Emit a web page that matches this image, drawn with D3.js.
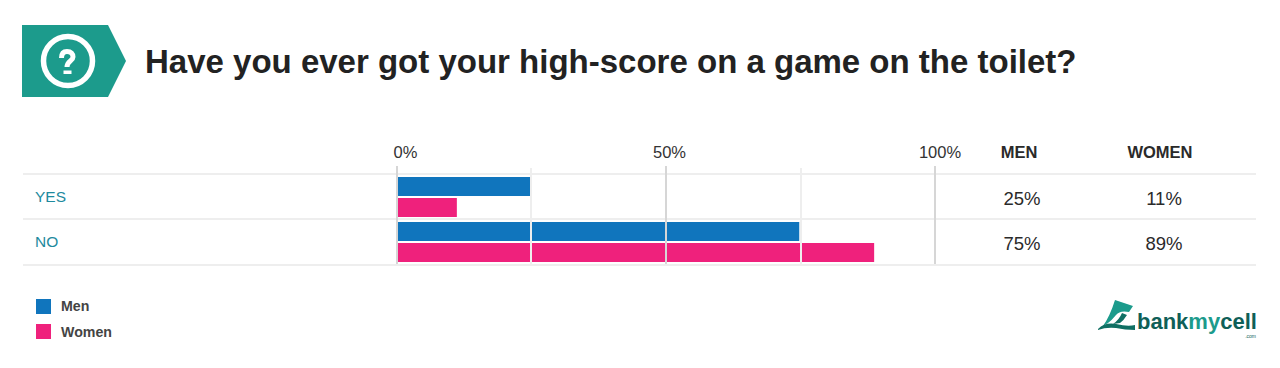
<!DOCTYPE html>
<html>
<head>
<meta charset="utf-8">
<script src="https://cdn.jsdelivr.net/npm/d3@7"></script>
<style>
  html, body { margin: 0; padding: 0; background: #fff; overflow: hidden; }
  text { font-family: "Liberation Sans", Arial, sans-serif; }
</style>
</head>
<body>
<div id="chart"></div>
<script>
const title = "Have you ever got your high-score on a game on the toilet?";
const categories = ["YES", "NO"];
const seriesNames = ["Men", "Women"];
const menValues = [25, 75];
const womenValues = [11, 89];
const xTicks = [0, 50, 100];
const minorTicks = [25, 75];

const colors = { Men: "#1075bd", Women: "#ef217c" };
const seriesValues = { Men: menValues, Women: womenValues };

const svg = d3.select("#chart").append("svg")
    .attr("width", 1280)
    .attr("height", 368);

// Header badge
const teal = "#1c9b8c";
svg.append("path")
    .attr("d", "M22,25H108L126,61L108,97H22Z")
    .attr("fill", teal);
svg.append("circle")
    .attr("cx", 68).attr("cy", 61).attr("r", 24.5)
    .attr("fill", "none")
    .attr("stroke", "#fff")
    .attr("stroke-width", 5.5);
svg.append("path")
    .attr("d", "M61.5,58C61.5,53 64,51.5 67,51.5C71,51.5 73,54 73,57C73,61 67,61 67,67")
    .attr("fill", "none")
    .attr("stroke", "#fff")
    .attr("stroke-width", 5);
svg.append("rect")
    .attr("x", 63.5).attr("y", 70.5)
    .attr("width", 8).attr("height", 3.5)
    .attr("fill", "#fff");

svg.append("text")
    .attr("x", 145).attr("y", 73)
    .attr("font-size", 33)
    .attr("font-weight", 700)
    .attr("fill", "#222")
    .text(title);

// Scales - grid runs a bit wider than the bars
const x = d3.scaleLinear().domain([0, 100]).range([397, 935]);
const xMinor = d3.scaleLinear().domain([0, 100]).range([396, 936]);
const xBar = d3.scaleLinear().domain([0, 100]).range([398, 933]);
const y = d3.scaleBand().domain(categories).range([175, 265]);
const ySeries = d3.scaleBand().domain(seriesNames).range([2, 42]).paddingInner(0.095);

// Bars
seriesNames.forEach(name => {
    svg.append("g").selectAll("rect")
        .data(categories)
        .join("rect")
        .attr("x", xBar(0))
        .attr("y", d => y(d) + ySeries(name))
        .attr("width", (d, i) => xBar(seriesValues[name][i]) - xBar(0))
        .attr("height", ySeries.bandwidth())
        .attr("fill", colors[name]);
});

// Horizontal row rules
svg.append("g").selectAll("line")
    .data([174, 219, 265])
    .join("line")
    .attr("x1", 23).attr("x2", 1256)
    .attr("y1", d => d).attr("y2", d => d)
    .attr("stroke", "#eeeeee")
    .attr("stroke-width", 2);

// Vertical grid
svg.append("g").selectAll("line")
    .data(minorTicks)
    .join("line")
    .attr("x1", d => xMinor(d)).attr("x2", d => xMinor(d))
    .attr("y1", 168).attr("y2", 264)
    .attr("stroke", "#eeeeee")
    .attr("stroke-width", 2);
svg.append("g").selectAll("line")
    .data(xTicks)
    .join("line")
    .attr("x1", d => x(d)).attr("x2", d => x(d))
    .attr("y1", 166).attr("y2", 264)
    .attr("stroke", "#d6d6d6")
    .attr("stroke-width", 2);

// Tick labels
svg.append("g").selectAll("text")
    .data(xTicks)
    .join("text")
    .attr("x", d => x(d) + (d === 50 ? 3.5 : d === 100 ? 5 : 8.5))
    .attr("y", 158)
    .attr("text-anchor", "middle")
    .attr("font-size", 16.5)
    .attr("fill", "#333")
    .text(d => d + "%");

// Column headers and values
const columnX = { Men: 1019, Women: 1160 };
const valueX = { Men: 1022, Women: 1164 };
seriesNames.forEach(name => {
    svg.append("text")
        .attr("x", columnX[name]).attr("y", 158)
        .attr("text-anchor", "middle")
        .attr("font-size", 16.5)
        .attr("font-weight", 700)
        .attr("fill", "#2a2a2a")
        .text(name.toUpperCase());

    svg.append("g").selectAll("text")
        .data(categories)
        .join("text")
        .attr("x", valueX[name])
        .attr("y", d => y(d) + 29.5)
        .attr("text-anchor", "middle")
        .attr("font-size", 18.5)
        .attr("fill", "#2a2a2a")
        .text((d, i) => seriesValues[name][i] + "%");
});

// Row labels
svg.append("g").selectAll("text")
    .data(categories)
    .join("text")
    .attr("x", 35)
    .attr("y", d => y(d) + 27)
    .attr("font-size", 15.5)
    .attr("fill", "#1d8a9e")
    .text(d => d);

// Legend
seriesNames.forEach((name, i) => {
    svg.append("rect")
        .attr("x", 36).attr("y", 299 + i * 25)
        .attr("width", 15).attr("height", 15)
        .attr("fill", colors[name]);
    svg.append("text")
        .attr("x", 61).attr("y", 311 + i * 25.5)
        .attr("font-size", 14.2)
        .attr("font-weight", 700)
        .attr("fill", "#444")
        .text(name);
});

// Logo
const logo = svg.append("g");
logo.append("path")
    .attr("d", "M1115,300L1133,306L1129,312Q1120,310 1116,315Q1112,320 1108,323L1103,326Q1110,316 1115,300Z")
    .attr("fill", teal);
logo.append("path")
    .attr("d", "M1122,313L1127,315Q1124,320 1120,323L1113,324Q1119,320 1122,313Z")
    .attr("fill", "#0f6f63");
logo.append("path")
    .attr("d", "M1098,329Q1105,322 1116,324Q1128,327 1135,325L1135,330Q1125,330 1116,328Q1106,327 1098,330Z")
    .attr("fill", "#0f6f63");
const logoText = logo.append("text")
    .attr("x", 1137).attr("y", 329)
    .attr("font-size", 22)
    .attr("font-weight", 700)
    .attr("fill", "#0f5f58");
logoText.append("tspan").text("bank");
logoText.append("tspan").attr("fill", teal).text("my");
logoText.append("tspan").text("cell");
logo.append("text")
    .attr("x", 1256).attr("y", 338)
    .attr("text-anchor", "end")
    .attr("font-size", 5)
    .attr("fill", "#0f5f58")
    .text(".com");
</script>
</body>
</html>
